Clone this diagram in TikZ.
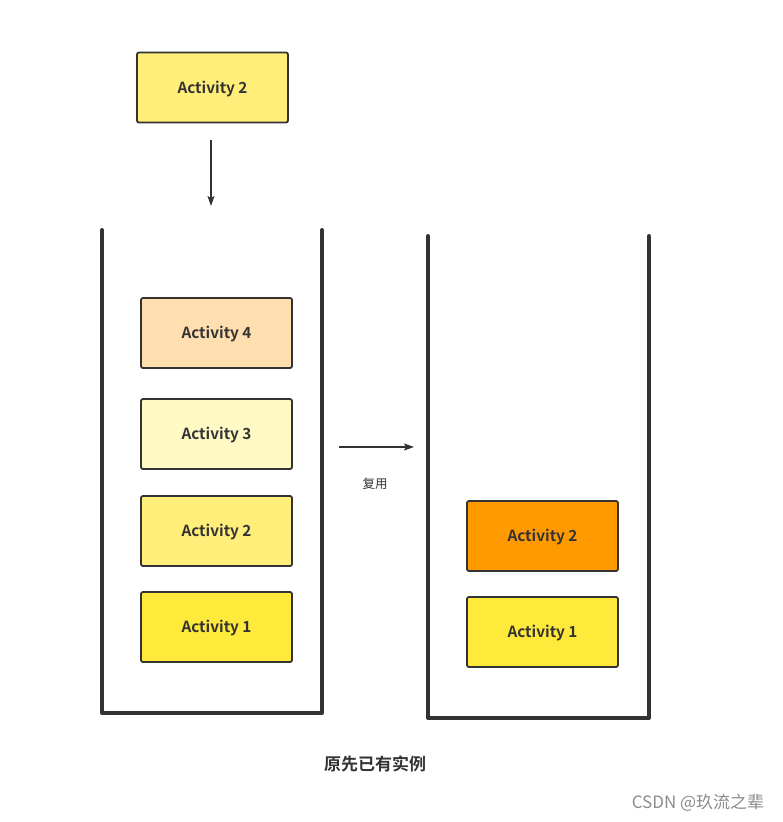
\documentclass[tikz,border=0pt]{standalone}
\usepackage{fontspec}
\setmainfont{Noto Sans CJK SC}
\newfontfamily\cjkb{Noto Sans CJK SC Bold}
\usetikzlibrary{arrows.meta}
\definecolor{ink}{HTML}{333333}
\definecolor{yA}{HTML}{FFE93A}
\definecolor{yB}{HTML}{FFEF7A}
\definecolor{yC}{HTML}{FFF9C4}
\definecolor{peach}{HTML}{FFDFB0}
\definecolor{orng}{HTML}{FF9900}
\tikzset{
  act/.style={draw=ink, line width=1.8pt, rounded corners=2pt, minimum width=151pt, minimum height=70pt, inner sep=0pt, font=\cjkb\fontsize{15.3}{18}\selectfont, text=ink, text height=1.12em, text depth=0pt},
  cont/.style={draw=ink, line width=4pt, line cap=round, line join=round},
  arr/.style={draw=ink, line width=1.4pt, -{Stealth[length=10pt,width=7pt,inset=2pt]}}
}
\begin{document}
\begin{tikzpicture}[x=1pt,y=-1pt]
\useasboundingbox (0,0) rectangle (782,822);
% containers
\draw[cont] (102,230) -- (102,713) -- (322,713) -- (322,230);
\draw[cont] (428,236) -- (428,718) -- (649,718) -- (649,236);
% top box
\node[act, fill=yB] (top) at (212.5,87.5) {Activity 2};
% left stack
\node[act, fill=peach] (l4) at (216.5,333) {Activity 4};
\node[act, fill=yC] (l3) at (216.5,434) {Activity 3};
\node[act, fill=yB] (l2) at (216.5,531) {Activity 2};
\node[act, fill=yA] (l1) at (216.5,627) {Activity 1};
% right stack
\node[act, fill=orng] (r2) at (542.5,536) {Activity 2};
\node[act, fill=yA] (r1) at (542.5,632) {Activity 1};
% arrows
\coordinate (d1) at (211,140);
\coordinate (d2) at (211,206);
\draw[arr] (d1) -- (d2);
\coordinate (h1) at (339,447);
\coordinate (h2) at (414,447);
\draw[arr] (h1) -- (h2);
\node[font=\fontsize{12.5}{15}\selectfont, text=ink, text height=1.1em, text depth=0pt] (reuse) at (375,483) {复用};
\node[font=\cjkb\fontsize{17}{20}\selectfont, text=ink, text height=1.1em, text depth=0pt] (cap) at (375,765) {原先已有实例};
\node[font=\fontsize{17}{20}\selectfont, text=black!45, text height=1.1em, text depth=0pt] (wm) at (698,803) {CSDN @玖流之辈};
\end{tikzpicture}
\end{document}
